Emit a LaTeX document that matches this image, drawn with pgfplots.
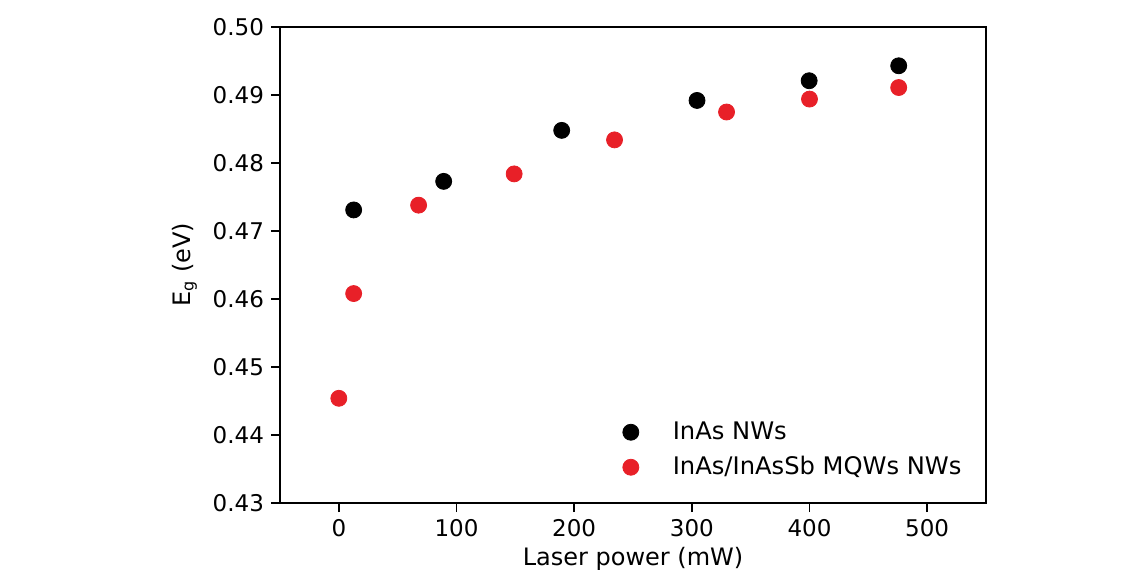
\documentclass[border=0pt]{standalone}
\usepackage{fontspec}
\setmainfont{DejaVu Sans}
\usepackage{pgfplots}
\pgfplotsset{compat=1.18}
\definecolor{myred}{RGB}{232,32,40}
\begin{document}
\begin{tikzpicture}
\useasboundingbox (0,0) rectangle (570pt,287.5pt);
\begin{axis}[
  at={(140pt,36pt)}, anchor=south west,
  scale only axis, width=353pt, height=238pt,
  xmin=-50, xmax=550, ymin=0.43, ymax=0.50,
  xtick={0,100,...,500},
  ytick={0.43,0.44,...,0.50},
  axis line style={line width=0.8pt},
  tick style={line width=0.8pt, black},
  tick align=outside, major tick length=4.5pt,
  xtick pos=bottom, ytick pos=left,
  /pgf/number format/assume math mode=true,
  yticklabel style={/pgf/number format/.cd, fixed, fixed zerofill, precision=2},
  xticklabel style={/pgf/number format/.cd, fixed},
  tick label style={font=\fontsize{11.5}{14}\selectfont},
  label style={font=\fontsize{12}{14}\selectfont},
  xlabel={Laser power (mW)},
  xlabel style={yshift=1.5pt},
  ylabel={E\textsubscript{g} (eV)},
  ylabel style={yshift=1pt},
  legend style={at={(0.98,0.035)}, anchor=south east, draw=none, fill=none,
    font=\fontsize{12.1}{17.5}\selectfont, row sep=3pt,
    /tikz/every odd column/.append style={column sep=15pt}},
  legend cell align=left,
  clip=false,
]
\addplot[only marks, mark=*, mark size=4pt, black] coordinates {
(12.6,0.4731) (89.1,0.4773) (189.4,0.4848) (304.4,0.4892) (399.7,0.4921) (475.8,0.4943)
};
\addlegendentry{InAs NWs}
\addplot[only marks, mark=*, mark size=4pt, myred] coordinates {
(0,0.4454) (12.6,0.4608) (67.8,0.4738) (149,0.4784) (234.3,0.4834) (329.5,0.4875) (400,0.4894) (475.8,0.4911)
};
\addlegendentry{InAs/InAsSb MQWs NWs}
\end{axis}
\end{tikzpicture}
\end{document}
